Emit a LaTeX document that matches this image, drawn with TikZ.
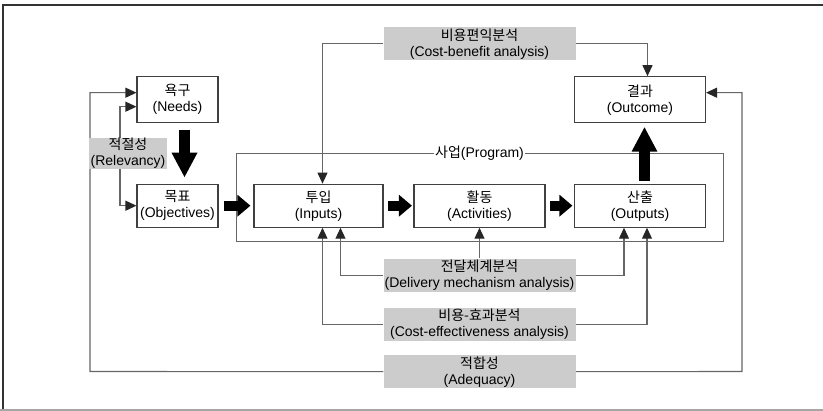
\documentclass[tikz,border=0pt]{standalone}
\usepackage{fontspec}
\setmainfont{Liberation Sans}
\newfontfamily\kr{Noto Sans CJK KR}
\usetikzlibrary{positioning,arrows.meta,backgrounds}

\begin{document}
\begin{tikzpicture}[
  x=1pt, y=-1pt,
  on grid,
  align=center,
  font=\fontsize{14pt}{16pt}\selectfont,
  >={Triangle[length=11pt,width=10pt,color=black!85]}, % 箭头样式
  box/.style={draw=black!75, line width=1.1pt, minimum width=130pt, minimum height=43pt, inner sep=1pt},
  tag/.style={fill=black!20, minimum width=192pt, minimum height=33pt, inner sep=0pt},
  conn/.style={draw=black!60, line width=1.1pt},
  fat/.style={line width=10pt, -{Triangle[length=13pt,width=21pt]}, shorten <=4.5pt, shorten >=1.5pt},
  big/.style={line width=11pt, -{Triangle[length=25pt,width=24pt]}}
]
\useasboundingbox (0,0) rectangle (823,411);

% 外框
\draw[black!80, line width=1.3pt] (823,5) -- (3,5) -- (3,410);
\draw[black!35, line width=1.3pt] (0,410) -- (823,410);

% 左列
\node (needs) [box, minimum width=81pt, minimum height=46pt] at (177.5,99.7) {{\kr 욕구}\\(Needs)};
\node (objectives) [box, minimum width=81pt, below=106pt of needs] {{\kr 목표}\\(Objectives)};
\node (relevancy) [tag, minimum width=78pt, minimum height=30pt] at (128,153.3) {{\kr 적절성}\\(Relevancy)};

% 中间一行
\node (inputs) [box, minimum width=129pt, right=141pt of objectives] {{\kr 투입}\\(Inputs)};
\node (activities) [box, minimum width=131pt, right=161pt of inputs] {{\kr 활동}\\(Activities)};
\node (outputs) [box, minimum width=131pt, right=160.5pt of activities] {{\kr 산출}\\(Outputs)};
\node (outcome) [box, minimum width=131pt, minimum height=46pt, above=106pt of outputs] {{\kr 결과}\\(Outcome)};

% 사업 框
\node (program) [draw=black!60, line width=1pt, minimum width=487pt, minimum height=88pt] at (479.5,198) {};
\node (programlabel) [fill=white, inner sep=1pt] at (program.north) {{\kr 사업}(Program)};

% 分析标签
\node (benefit) [tag, above=162pt of activities] {{\kr 비용편익분석}\\(Cost-benefit analysis)};
\node (delivery) [tag, below=69.5pt of activities] {{\kr 전달체계분석}\\(Delivery mechanism analysis)};
\node (effect) [tag, below=49pt of delivery] {{\kr 비용-효과분석}\\(Cost-effectiveness analysis)};
\node (adequacy) [tag, below=47.5pt of effect] {{\kr 적합성}\\(Adequacy)};

\coordinate (adqL) at (90,371.5);
\coordinate (adqR) at (742,371.5);
\coordinate (relC) at (120,153);

% 连线
\begin{scope}[on background layer]
\draw[conn,->] (benefit.west) -| ([xshift=4pt]inputs.north);
\draw[conn,->] (benefit.east) -| ([xshift=7.5pt]outcome.north);
\draw[conn,->] (delivery.west) -| ([xshift=22pt]inputs.south);
\draw[conn,->] (delivery.north) -- (activities.south);
\draw[conn,->] (delivery.east) -| ([xshift=-16pt]outputs.south);
\draw[conn,->] (effect.west) -| ([xshift=4pt]inputs.south);
\draw[conn,->] (effect.east) -| ([xshift=7pt]outputs.south);
\draw[conn,->] (adequacy.west) -- (adqL) |- ([yshift=7pt]needs.west);
\draw[conn,->] (adequacy.east) -- (adqR) |- ([yshift=7pt]outcome.east);
\draw[conn,<->] ([yshift=-7pt]needs.west) -| (relC) |- (objectives.west);
\end{scope}

% 粗箭头
\draw[fat, shorten <=5pt, shorten >=3pt] (objectives) -- (inputs);
\draw[fat] (inputs) -- (activities);
\draw[fat] (activities) -- (outputs);
\draw[big, shorten <=6.5pt, shorten >=6pt] ([xshift=7pt]needs.south) -- ([xshift=7pt]objectives.north);
\draw[big, shorten <=3pt, shorten >=3.5pt] ([xshift=4.5pt]outputs.north) -- ([xshift=4.5pt]outcome.south);
\end{tikzpicture}
\end{document}
